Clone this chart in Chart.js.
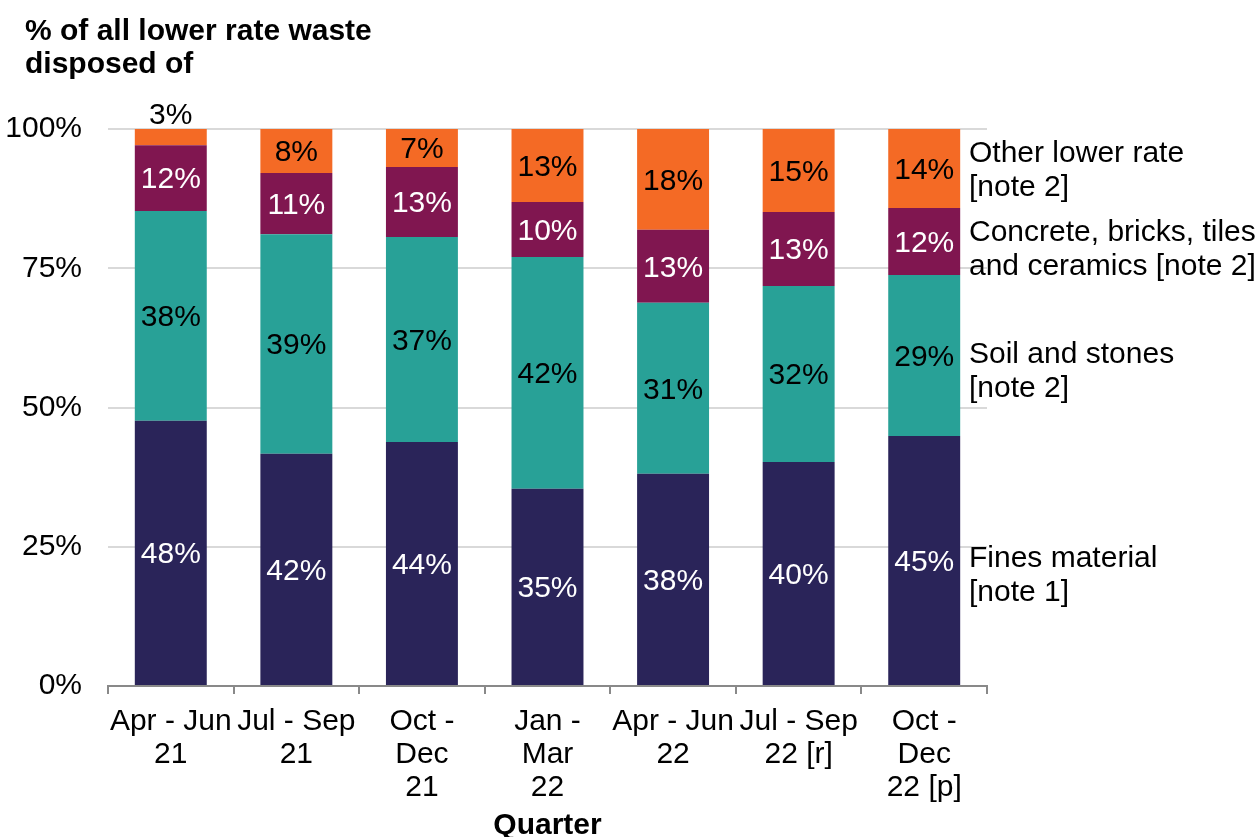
<!DOCTYPE html>
<html>
<head>
<meta charset="utf-8">
<script src="https://cdn.jsdelivr.net/npm/chart.js@4.4.0/dist/chart.umd.min.js"></script>
<style>
  html, body { margin: 0; padding: 0; background: #fff; }
</style>
</head>
<body>
<canvas id="wasteChart" width="1258" height="837"></canvas>
<script>
// quarters on the x axis (multi-line labels)
var quarters = [
  ['Apr - Jun', '21'],
  ['Jul - Sep', '21'],
  ['Oct -', 'Dec', '21'],
  ['Jan -', 'Mar', '22'],
  ['Apr - Jun', '22'],
  ['Jul - Sep', '22 [r]'],
  ['Oct -', 'Dec', '22 [p]']
];

// share of lower rate waste, %
var fines    = [47.6, 41.7, 43.8, 35.4, 38.1, 40.2, 44.9];
var soil     = [37.7, 39.4, 36.8, 41.6, 30.7, 31.6, 28.9];
var concrete = [11.8, 11.0, 12.6,  9.9, 13.1, 13.3, 12.0];
var other    = [ 2.9,  7.9,  6.8, 13.1, 18.1, 14.9, 14.2];

var seriesNames = [
  ['Fines material', '[note 1]'],
  ['Soil and stones', '[note 2]'],
  ['Concrete, bricks, tiles', 'and ceramics [note 2]'],
  ['Other lower rate', '[note 2]']
];
var yTicks = [0, 25, 50, 75, 100];
var yTitle = ['% of all lower rate waste', 'disposed of'];

var FONT = '"Liberation Sans", Arial, sans-serif';
Chart.defaults.font.family = FONT;
Chart.defaults.font.size = 30;
Chart.defaults.color = '#000';

var barColours = ['#2A2459', '#28A197', '#801650', '#F46A25'];
var textColours = ['#fff', '#000', '#fff', '#000'];
var sideNudge = [15, 16, 8, 2];

// values inside the bars, series names at the right, y title on top
var labelPlugin = {
  id: 'barLabels',
  afterDatasetsDraw: function (chart) {
    var ctx = chart.ctx;
    ctx.save();
    ctx.font = '30px ' + FONT;
    ctx.textBaseline = 'middle';
    chart.data.datasets.forEach(function (ds, i) {
      var bars = chart.getDatasetMeta(i).data;
      ctx.textAlign = 'center';
      bars.forEach(function (bar, j) {
        var h = Math.abs(bar.base - bar.y);
        var y = (bar.y + bar.base) / 2 + 2;
        var col = textColours[i];
        if (h < 26) { y = bar.y - 13; col = '#000'; }
        ctx.fillStyle = col;
        ctx.fillText(Math.round(ds.data[j]) + '%', bar.x, y);
      });
      var last = bars[bars.length - 1];
      var cy = (last.y + last.base) / 2 + sideNudge[i];
      ctx.textAlign = 'left';
      ctx.fillStyle = '#000';
      ctx.fillText(seriesNames[i][0], chart.chartArea.right - 18, cy - 17);
      ctx.fillText(seriesNames[i][1], chart.chartArea.right - 18, cy + 17);
    });
    ctx.font = 'bold 30px ' + FONT;
    ctx.textAlign = 'left';
    ctx.textBaseline = 'alphabetic';
    ctx.fillText(yTitle[0], 25, 40);
    ctx.fillText(yTitle[1], 25, 73);
    ctx.restore();
  }
};

var ctx = document.getElementById('wasteChart').getContext('2d');
var wasteChart = new Chart(ctx, {
  type: 'bar',
  data: {
    labels: quarters,
    datasets: [
      { label: 'Fines material', data: fines, backgroundColor: barColours[0] },
      { label: 'Soil and stones', data: soil, backgroundColor: barColours[1] },
      { label: 'Concrete, bricks, tiles and ceramics', data: concrete, backgroundColor: barColours[2] },
      { label: 'Other lower rate', data: other, backgroundColor: barColours[3] }
    ]
  },
  options: {
    responsive: false,
    animation: false,
    devicePixelRatio: 1,
    layout: { padding: { left: 0, right: 271, top: 129, bottom: 0 } },
    datasets: {
      bar: { categoryPercentage: 1, barPercentage: 0.573, borderWidth: 0 }
    },
    plugins: {
      legend: { display: false },
      tooltip: { enabled: false },
      title: { display: false }
    },
    scales: {
      x: {
        stacked: true,
        afterFit: function (scale) { scale.height = 151; },
        grid: { drawOnChartArea: false, tickLength: 8, color: '#898989', lineWidth: 2 },
        border: { color: '#898989', width: 2 },
        ticks: { padding: 11, maxRotation: 0, autoSkip: false, font: { size: 30, lineHeight: 1.1 } },
        title: {
          display: true,
          text: 'Quarter',
          font: { size: 30, weight: 'bold', lineHeight: 0.76 },
          padding: { top: 0, bottom: 0 }
        }
      },
      y: {
        stacked: true,
        min: 0,
        max: 100,
        afterFit: function (scale) { scale.width = 108; },
        afterBuildTicks: function (scale) {
          scale.ticks = yTicks.map(function (v) { return { value: v }; });
        },
        grid: { color: '#d9d9d9', lineWidth: 2, drawTicks: false },
        border: { display: false },
        ticks: {
          padding: 26,
          callback: function (v) { return v + '%'; }
        }
      }
    }
  },
  plugins: [labelPlugin]
});
</script>
</body>
</html>
